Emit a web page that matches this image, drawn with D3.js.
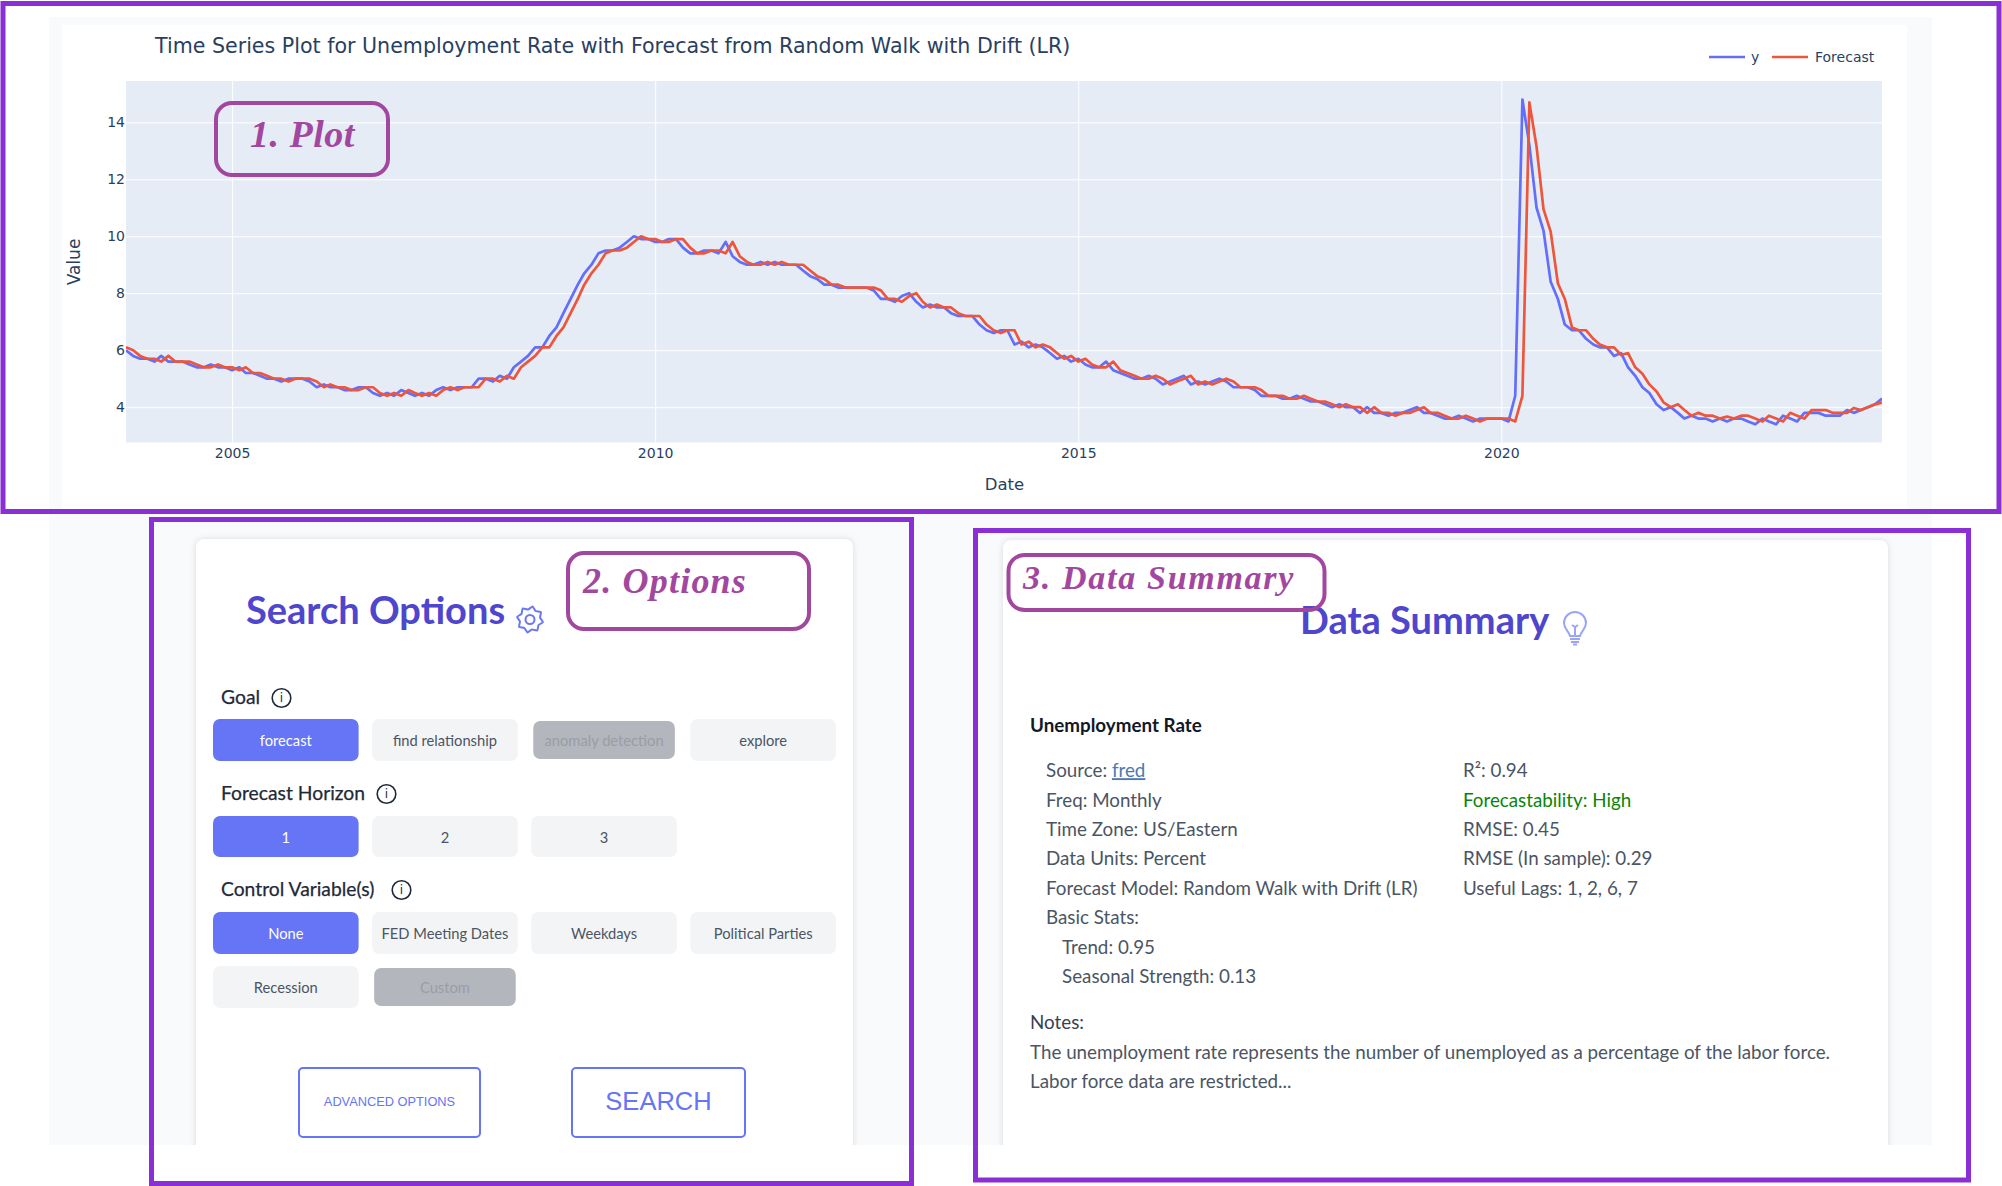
<!DOCTYPE html>
<html>
<head>
<meta charset="utf-8">
<script src="https://cdn.jsdelivr.net/npm/d3@7"></script>
<style>
  html, body { margin: 0; padding: 0; background: #fff; }
  svg { display: block; }
  .hand { font-family: "Liberation Serif", serif; font-style: italic; font-weight: 700; fill: #a2479f; }
</style>
</head>
<body>
<div id="chart"></div>
<script>
// monthly values, Oct 2003 .. Jul 2024
const firstMonth = new Date(2003, 9, 1);
const actual = [
  6.0, 5.8, 5.7,
  5.7, 5.6, 5.8, 5.6, 5.6, 5.6, 5.5, 5.4, 5.4, 5.5, 5.4, 5.4,
  5.3, 5.4, 5.2, 5.2, 5.1, 5.0, 5.0, 4.9, 5.0, 5.0, 5.0, 4.9,
  4.7, 4.8, 4.7, 4.7, 4.6, 4.6, 4.7, 4.7, 4.5, 4.4, 4.5, 4.4,
  4.6, 4.5, 4.4, 4.5, 4.4, 4.6, 4.7, 4.6, 4.7, 4.7, 4.7, 5.0,
  5.0, 4.9, 5.1, 5.0, 5.4, 5.6, 5.8, 6.1, 6.1, 6.5, 6.8, 7.3,
  7.8, 8.3, 8.7, 9.0, 9.4, 9.5, 9.5, 9.6, 9.8, 10.0, 9.9, 9.9,
  9.8, 9.8, 9.9, 9.9, 9.6, 9.4, 9.4, 9.5, 9.5, 9.4, 9.8, 9.3,
  9.1, 9.0, 9.0, 9.1, 9.0, 9.1, 9.0, 9.0, 9.0, 8.8, 8.6, 8.5,
  8.3, 8.3, 8.2, 8.2, 8.2, 8.2, 8.2, 8.1, 7.8, 7.8, 7.7, 7.9,
  8.0, 7.7, 7.5, 7.6, 7.5, 7.5, 7.3, 7.2, 7.2, 7.2, 6.9, 6.7,
  6.6, 6.7, 6.7, 6.2, 6.3, 6.1, 6.2, 6.1, 5.9, 5.7, 5.8, 5.6,
  5.7, 5.5, 5.4, 5.4, 5.6, 5.3, 5.2, 5.1, 5.0, 5.0, 5.1, 5.0,
  4.8, 4.9, 5.0, 5.1, 4.8, 4.9, 4.8, 4.9, 5.0, 4.9, 4.7, 4.7,
  4.7, 4.6, 4.4, 4.4, 4.4, 4.3, 4.3, 4.4, 4.3, 4.2, 4.2, 4.1,
  4.0, 4.1, 4.0, 4.0, 3.8, 4.0, 3.8, 3.8, 3.7, 3.8, 3.8, 3.9,
  4.0, 3.8, 3.8, 3.7, 3.6, 3.6, 3.7, 3.6, 3.5, 3.6, 3.6, 3.6,
  3.6, 3.5, 4.4, 14.8, 13.2, 11.0, 10.2, 8.4, 7.8, 6.9, 6.7, 6.7,
  6.4, 6.2, 6.1, 6.1, 5.8, 5.9, 5.4, 5.1, 4.7, 4.5, 4.1, 3.9,
  4.0, 3.8, 3.6, 3.7, 3.6, 3.6, 3.5, 3.6, 3.5, 3.6, 3.6, 3.5,
  3.4, 3.6, 3.5, 3.4, 3.7, 3.6, 3.5, 3.8, 3.8, 3.8, 3.7, 3.7,
  3.7, 3.9, 3.8, 3.9, 4.0, 4.1, 4.3
];
const forecast = [
  6.1, 6.0, 5.8,
  5.7, 5.7, 5.6, 5.8, 5.6, 5.6, 5.6, 5.5, 5.4, 5.4, 5.5, 5.4,
  5.4, 5.3, 5.4, 5.2, 5.2, 5.1, 5.0, 5.0, 4.9, 5.0, 5.0, 5.0,
  4.9, 4.7, 4.8, 4.7, 4.7, 4.6, 4.6, 4.7, 4.7, 4.5, 4.4, 4.5,
  4.4, 4.6, 4.5, 4.4, 4.5, 4.4, 4.6, 4.7, 4.6, 4.7, 4.7, 4.7,
  5.0, 5.0, 4.9, 5.1, 5.0, 5.4, 5.6, 5.8, 6.1, 6.1, 6.5, 6.8,
  7.3, 7.8, 8.3, 8.7, 9.0, 9.4, 9.5, 9.5, 9.6, 9.8, 10.0, 9.9,
  9.9, 9.8, 9.8, 9.9, 9.9, 9.6, 9.4, 9.4, 9.5, 9.5, 9.4, 9.8,
  9.3, 9.1, 9.0, 9.0, 9.1, 9.0, 9.1, 9.0, 9.0, 9.0, 8.8, 8.6,
  8.5, 8.3, 8.3, 8.2, 8.2, 8.2, 8.2, 8.2, 8.1, 7.8, 7.8, 7.7,
  7.9, 8.0, 7.7, 7.5, 7.6, 7.5, 7.5, 7.3, 7.2, 7.2, 7.2, 6.9,
  6.7, 6.6, 6.7, 6.7, 6.2, 6.3, 6.1, 6.2, 6.1, 5.9, 5.7, 5.8,
  5.6, 5.7, 5.5, 5.4, 5.4, 5.6, 5.3, 5.2, 5.1, 5.0, 5.0, 5.1,
  5.0, 4.8, 4.9, 5.0, 5.1, 4.8, 4.9, 4.8, 4.9, 5.0, 4.9, 4.7,
  4.7, 4.7, 4.6, 4.4, 4.4, 4.4, 4.3, 4.3, 4.4, 4.3, 4.2, 4.2,
  4.1, 4.0, 4.1, 4.0, 4.0, 3.8, 4.0, 3.8, 3.8, 3.7, 3.8, 3.8,
  3.9, 4.0, 3.8, 3.8, 3.7, 3.6, 3.6, 3.7, 3.6, 3.5, 3.6, 3.6,
  3.6, 3.6, 3.5, 4.4, 14.7, 13.15, 10.95, 10.16, 8.35, 7.8, 6.8, 6.7,
  6.7, 6.4, 6.2, 6.1, 6.1, 5.83, 5.9, 5.4, 5.17, 4.8, 4.55, 4.17,
  4.0, 4.1, 3.9, 3.7, 3.8, 3.7, 3.7, 3.6, 3.67, 3.6, 3.7, 3.7,
  3.6, 3.5, 3.7, 3.6, 3.5, 3.8, 3.7, 3.6, 3.9, 3.9, 3.9, 3.8,
  3.8, 3.8, 3.97, 3.9, 4.0, 4.1, 4.16
];
const yTicks = [4, 6, 8, 10, 12, 14];
const xTickYears = [2005, 2010, 2015, 2020];

const goalOptions = ["forecast", "find relationship", "anomaly detection", "explore"];
const horizonOptions = ["1", "2", "3"];
const controlOptions = ["None", "FED Meeting Dates", "Weekdays", "Political Parties"];
const controlOptions2 = ["Recession", "Custom"];
const disabledOptions = ["anomaly detection", "Custom"];
const selectedOptions = ["forecast", "1", "None"];

const summaryLeft = ["Freq: Monthly", "Time Zone: US/Eastern", "Data Units: Percent",
  "Forecast Model: Random Walk with Drift (LR)", "Basic Stats:"];
const summaryStats = ["Trend: 0.95", "Seasonal Strength: 0.13"];
const summaryRight = ["R²: 0.94", "Forecastability: High", "RMSE: 0.45", "RMSE (In sample): 0.29", "Useful Lags: 1, 2, 6, 7"];
const noteLines = ["The unemployment rate represents the number of unemployed as a percentage of the labor force.",
  "Labor force data are restricted..."];

const plot = { left: 126, right: 1882, top: 81, bottom: 442.5 };
const purple = "#8a2fd6";
const chartFont = '"DejaVu Sans", Verdana, sans-serif';
const uiFont = 'Lato, sans-serif';

const svg = d3.select("#chart").append("svg").attr("width", 2002).attr("height", 1186);

// page backgrounds
svg.append("rect").attr("x", 49).attr("y", 17).attr("width", 1883).attr("height", 1128).attr("fill", "#f9fafb");
svg.append("rect").attr("x", 62).attr("y", 25).attr("width", 1845).attr("height", 484).attr("fill", "#fff");

// ---- plot ----
const dates = actual.map((_, i) => d3.timeMonth.offset(firstMonth, i));
const xScale = d3.scaleTime()
  .domain([dates[0], dates[dates.length - 1]])
  .range([plot.left, plot.right]);
const yScale = d3.scaleLinear().domain([2.76, 15.45]).range([plot.bottom, plot.top]);

svg.append("rect").attr("x", plot.left).attr("y", plot.top)
  .attr("width", plot.right - plot.left).attr("height", plot.bottom - plot.top).attr("fill", "#e5ecf6");

const xAxis = svg.append("g")
  .attr("transform", `translate(0,${plot.bottom})`)
  .call(d3.axisBottom(xScale)
    .tickValues(xTickYears.map(y => new Date(y, 0, 1)))
    .tickFormat(d3.timeFormat("%Y"))
    .tickSize(-(plot.bottom - plot.top)).tickPadding(6));
const yAxis = svg.append("g")
  .attr("transform", `translate(${plot.left},0)`)
  .call(d3.axisLeft(yScale).tickValues(yTicks).tickSize(-(plot.right - plot.left)).tickPadding(1));

[xAxis, yAxis].forEach(a => {
  a.select(".domain").remove();
  a.selectAll("line").attr("stroke", "#fff").attr("stroke-width", 1);
  a.selectAll("text").attr("fill", "#2a3f5f").attr("font-family", chartFont).attr("font-size", 14);
});

const line = d3.line().x((d, i) => xScale(dates[i])).y(d => yScale(d));
svg.append("clipPath").attr("id", "plot-clip").append("rect")
  .attr("x", plot.left).attr("y", plot.top)
  .attr("width", plot.right - plot.left).attr("height", plot.bottom - plot.top);
[[actual, "#636efa"], [forecast, "#ef553b"]].forEach(([values, color]) => {
  svg.append("path").datum(values).attr("d", line)
    .attr("clip-path", "url(#plot-clip)")
    .attr("fill", "none").attr("stroke", color).attr("stroke-width", 2.7)
    .attr("stroke-linejoin", "round");
});

svg.append("text").attr("x", 155).attr("y", 52.5).attr("fill", "#2a3f5f")
  .attr("font-family", chartFont).attr("font-size", 20.6)
  .text("Time Series Plot for Unemployment Rate with Forecast from Random Walk with Drift (LR)");
svg.append("text").attr("transform", "translate(74,262) rotate(-90)").attr("text-anchor", "middle")
  .attr("dy", "0.35em").attr("fill", "#2a3f5f").attr("font-family", chartFont).attr("font-size", 17).text("Value");
svg.append("text").attr("x", 1004.5).attr("y", 484).attr("dy", "0.35em").attr("text-anchor", "middle")
  .attr("fill", "#2a3f5f").attr("font-family", chartFont).attr("font-size", 16.5).text("Date");

// legend
[["y", "#636efa", 1709, 1751], ["Forecast", "#ef553b", 1772, 1815]].forEach(([name, color, x0, xText]) => {
  svg.append("line").attr("x1", x0).attr("x2", x0 + 36).attr("y1", 57).attr("y2", 57)
    .attr("stroke", color).attr("stroke-width", 2.7);
  svg.append("text").attr("x", xText).attr("y", 57).attr("dy", "0.35em").attr("fill", "#2a3f5f")
    .attr("font-family", chartFont).attr("font-size", 14).text(name);
});

// ---- cards ----
[[196, 539, 657], [1003, 540, 885]].forEach(([x, y, w]) => {
  svg.append("rect").attr("x", x).attr("y", y).attr("width", w).attr("height", 640).attr("rx", 8)
    .attr("fill", "#fff").style("filter", "drop-shadow(0 0 3px rgba(0,0,0,0.13))");
});
svg.append("rect").attr("x", 0).attr("y", 1145).attr("width", 2002).attr("height", 41).attr("fill", "#fff");

function heading(txt, x, y) {
  svg.append("text").attr("x", x).attr("y", y).attr("fill", "#4f46ce")
    .attr("font-family", uiFont).attr("font-weight", 700).attr("font-size", 38).text(txt);
}
heading("Search Options", 246, 624);
heading("Data Summary", 1300, 634);

// gear icon
const gear = svg.append("g").attr("transform", "translate(530,619.5)")
  .attr("fill", "none").attr("stroke", "#6a78f5").attr("stroke-width", 2);
gear.append("circle").attr("r", 4.5);
const gearPts = d3.range(16).map(i => {
  const r = i % 2 ? 13.2 : 10.2;
  const a = (i - 0.5) * Math.PI / 8;
  return [r * Math.cos(a), r * Math.sin(a)];
});
gear.append("path").attr("d", d3.line().curve(d3.curveCardinalClosed.tension(0.6))(gearPts));

// bulb icon
const bulb = svg.append("g").attr("transform", "translate(1575,628)")
  .attr("fill", "none").attr("stroke", "#9aa5f8").attr("stroke-width", 2);
bulb.append("path").attr("d", "M-5,8 C-6,3 -11,1 -11,-5 A11,11 0 0 1 11,-5 C11,1 6,3 5,8 Z");
bulb.append("path").attr("d", "M-5,11 H5 M-4,14 H4 M-2,16.5 H2 M0,8 V-1 M-3,-3 L0,-1 L3,-3");

// ---- search options ----
const optionsFont = 14.7;
function label(txt, x, y, iconX) {
  svg.append("text").attr("x", x).attr("y", y).attr("dy", "0.35em").attr("fill", "#1f2937")
    .attr("stroke", "#1f2937").attr("stroke-width", 0.25)
    .attr("font-family", uiFont).attr("font-size", 19.3).text(txt);
  const g = svg.append("g").attr("transform", `translate(${iconX},${y + 1})`);
  g.append("circle").attr("r", 9.3).attr("fill", "none").attr("stroke", "#1f2937").attr("stroke-width", 1.6);
  g.append("text").attr("text-anchor", "middle").attr("dy", "0.35em").attr("fill", "#1f2937")
    .attr("font-family", chartFont).attr("font-size", 12).text("i");
}
label("Goal", 221, 697, 281.5);
label("Forecast Horizon", 221, 793, 386.5);
label("Control Variable(s)", 221, 889, 401.5);

const columnX = d3.scaleBand().domain(d3.range(4)).range([213, 836]).paddingInner(0.085).paddingOuter(0);
function buttonRow(options, y, h) {
  const g = svg.append("g").attr("transform", `translate(0,${y})`);
  options.forEach((txt, i) => {
    const disabled = disabledOptions.includes(txt);
    const selected = selectedOptions.includes(txt);
    const inset = disabled ? 2 : 0;
    g.append("rect").attr("x", columnX(i) + inset).attr("y", inset)
      .attr("width", columnX.bandwidth() - inset * 2).attr("height", h - inset * 2).attr("rx", 7)
      .attr("fill", selected ? "#6675f5" : disabled ? "#b3b6bd" : "#f3f4f6");
    g.append("text").attr("x", columnX(i) + columnX.bandwidth() / 2).attr("y", h / 2 + 1).attr("dy", "0.35em")
      .attr("text-anchor", "middle").attr("font-family", uiFont).attr("font-size", optionsFont)
      .attr("fill", selected ? "#fff" : disabled ? "#9a9da6" : "#4b5563").text(txt);
  });
}
buttonRow(goalOptions, 719, 42);
buttonRow(horizonOptions, 816, 41);
buttonRow(controlOptions, 912, 42);
buttonRow(controlOptions2, 966, 42);

[["ADVANCED OPTIONS", 299, 181, 12.8], ["SEARCH", 572, 173, 25.5]].forEach(([txt, x, w, size]) => {
  svg.append("rect").attr("x", x).attr("y", 1068).attr("width", w).attr("height", 69).attr("rx", 4)
    .attr("fill", "#fff").attr("stroke", "#6675f5").attr("stroke-width", 2);
  svg.append("text").attr("x", x + w / 2).attr("y", 1101.5).attr("dy", "0.35em").attr("text-anchor", "middle")
    .attr("font-family", '"Liberation Sans", Arial, sans-serif').attr("font-size", size).attr("fill", "#6675f5").text(txt);
});

// ---- data summary ----
const summaryFont = 18.8;
const rowY = d3.scaleLinear().domain([0, 1]).range([770.6, 800]);
function summaryText(x, y, txt, fill) {
  return svg.append("text").attr("x", x).attr("y", y).attr("dy", "0.35em").attr("fill", fill || "#4b5563")
    .attr("font-family", uiFont).attr("font-size", summaryFont).text(txt);
}
summaryText(1030, 725, "Unemployment Rate", "#111827").attr("font-weight", 700);
const source = summaryText(1046, rowY(0), "Source: ");
source.append("tspan").attr("fill", "#4a7ab5").attr("text-decoration", "underline").text("fred");
summaryLeft.forEach((t, i) => summaryText(1046, rowY(i + 1), t));
summaryStats.forEach((t, i) => summaryText(1062, rowY(i + 6), t));
summaryRight.forEach((t, i) => summaryText(1463, rowY(i), t, t.startsWith("Forecastability") ? "#0a840a" : null));
summaryText(1030, 1022.5, "Notes:", "#374151");
noteLines.forEach((t, i) => summaryText(1030, 1052 + i * 29.6, t));

// ---- hand drawn annotations ----
[[214, 101, 176, 76, "1. Plot", 250, 147, 38, 0.5],
 [566, 551, 245, 80, "2. Options", 583, 593, 36, 1.2],
 [1006.5, 553, 320, 59, "3. Data Summary", 1023, 589, 34, 1.7]].forEach(([x, y, w, h, txt, tx, ty, size, spacing]) => {
  svg.append("rect").attr("x", x + 2).attr("y", y + 2).attr("width", w - 4).attr("height", h - 4).attr("rx", 16)
    .attr("fill", "none").attr("stroke", "#a2479f").attr("stroke-width", 4);
  svg.append("text").attr("class", "hand").attr("x", tx).attr("y", ty).attr("font-size", size)
    .attr("letter-spacing", spacing).text(txt);
});

// ---- section frames ----
[[3, 3.5, 1996, 508], [151.5, 519.5, 760, 664], [975.5, 530.5, 993, 649.5]].forEach(([x, y, w, h]) => {
  svg.append("rect").attr("x", x).attr("y", y).attr("width", w).attr("height", h)
    .attr("fill", "none").attr("stroke", purple).attr("stroke-width", 5);
});
</script>
</body>
</html>
